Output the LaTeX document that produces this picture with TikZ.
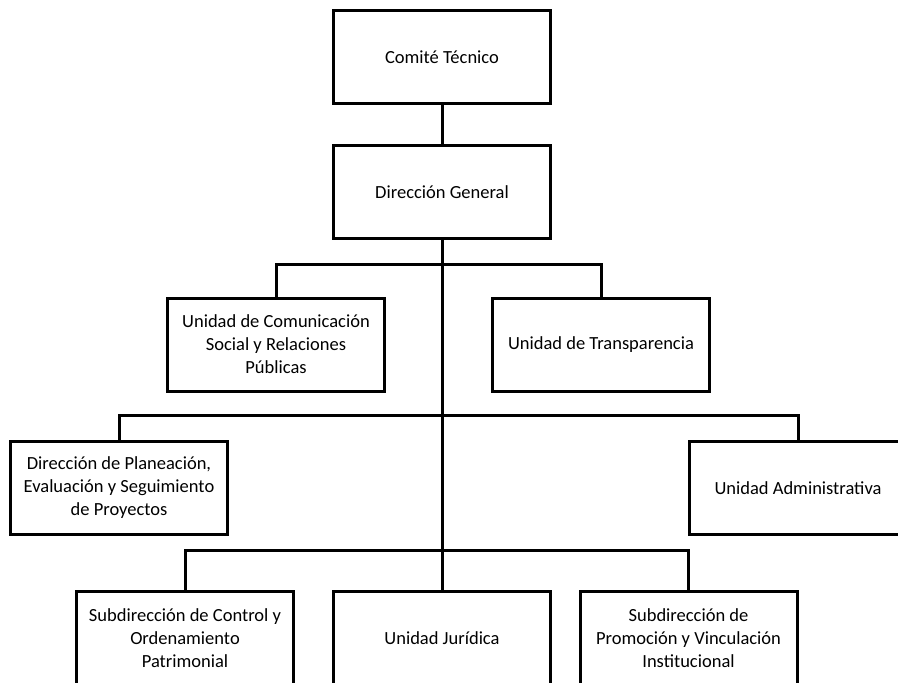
\documentclass[tikz,border=0pt]{standalone}
\usepackage{fontspec}
\setmainfont{Carlito}
\begin{document}
\begin{tikzpicture}[x=1pt, y=-1pt, line width=3pt,
    unit/.style={draw, rectangle, minimum width=217pt, minimum height=93pt,
        align=center, font=\fontsize{18.5}{23}\selectfont}]
\useasboundingbox (0,0) rectangle (898,683);
\clip (0,0) rectangle (898,683);
\node[unit] (comite) at (442,57) {Comité Técnico};
\node[unit] (direccion) at (442,192) {Dirección General};
\node[unit] (comunicacion) at (276,344.5) {Unidad de Comunicación\\Social y Relaciones\\Públicas};
\node[unit] (transparencia) at (601,344.5) {Unidad de Transparencia};
\node[unit] (planeacion) at (119,488) {Dirección de Planeación,\\Evaluación y Seguimiento\\de Proyectos};
\node[unit] (administrativa) at (798,488) {Unidad Administrativa};
\node[unit] (control) at (185,638) {Subdirección de Control y\\Ordenamiento\\Patrimonial};
\node[unit] (juridica) at (442,638) {Unidad Jurídica};
\node[unit] (promocion) at (688.5,638) {Subdirección de\\Promoción y Vinculación\\Institucional};
\foreach \k/\y in {1/264, 2/415, 3/550}
    \coordinate (bar\k) at (442,\y);
\draw (comite) -- (direccion);
\draw (direccion.south) -- (juridica.north);
\foreach \a/\k/\b in {comunicacion/1/transparencia, planeacion/2/administrativa, control/3/promocion}
    \draw (\a.north) |- (bar\k) -| (\b.north);
\end{tikzpicture}
\end{document}
